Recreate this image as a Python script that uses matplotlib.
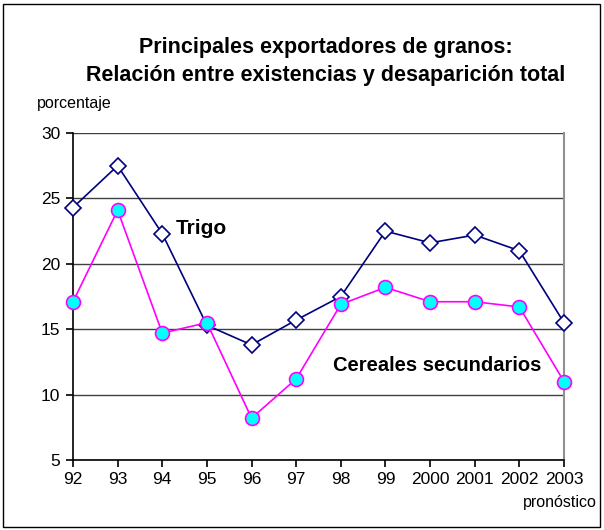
import matplotlib
matplotlib.use('Agg')
import matplotlib.pyplot as plt
from matplotlib.patches import Rectangle

plt.rcParams['font.family'] = ['Liberation Sans', 'DejaVu Sans']

years = ['92', '93', '94', '95', '96', '97', '98', '99', '2000', '2001', '2002', '2003']
trigo = [24.3, 27.5, 22.3, 15.3, 13.8, 15.7, 17.5, 22.5, 21.6, 22.2, 21.0, 15.5]
cereales = [17.1, 24.1, 14.7, 15.5, 8.2, 11.2, 16.9, 18.2, 17.1, 17.1, 16.7, 11.0]

fig = plt.figure(figsize=(6.04, 5.30), dpi=100)
ax = fig.add_axes([73/604, 1-460/530, (564-73)/604, (460-133)/530])

x = list(range(len(years)))
ax.plot(x, trigo, color='#000080', lw=1.2, marker='D', markersize=8,
        markerfacecolor='white', markeredgecolor='#000080', markeredgewidth=1.2, zorder=3)
ax.plot(x, cereales, color='#ff00ff', lw=1.2, marker='o', markersize=10,
        markerfacecolor='#00ffff', markeredgecolor='#ff00ff', markeredgewidth=1.2, zorder=4)

ax.set_xlim(0, len(years)-1)
ax.set_ylim(5, 30)
ax.set_yticks([5, 10, 15, 20, 25, 30])
ax.set_xticks(x)
ax.set_xticklabels(years)
ax.tick_params(labelsize=12.5, direction='out', length=5, width=1.2, pad=4)
ax.yaxis.grid(True, color='#404040', lw=1)
ax.set_axisbelow(True)
ax.spines['top'].set_visible(False)
ax.spines['right'].set_color('#909090')
ax.spines['right'].set_linewidth(1.5)
ax.spines['left'].set_linewidth(1.2)
ax.spines['bottom'].set_linewidth(1.2)
for ln in ax.lines:
    ln.set_clip_on(False)

ax.text(2.3, 22.7, 'Trigo', fontsize=15, fontweight='bold', va='center', ha='left')
ax.text(5.83, 12.2, 'Cereales secundarios', fontsize=14.5, fontweight='bold', va='center', ha='left')

fig.text(326/604, 1-48/530, 'Principales exportadores de granos:', fontsize=15.5,
         fontweight='bold', ha='center', va='center')
fig.text(326/604, 1-75/530, 'Relación entre existencias y desaparición total', fontsize=15.5,
         fontweight='bold', ha='center', va='center')
fig.text(37/604, 1-103/530, 'porcentaje', fontsize=11.5, ha='left', va='center')
fig.text(597/604, 1-503/530, 'pronóstico', fontsize=11.5, ha='right', va='center')

fig.patches.append(Rectangle((3/604, 3/530), 597/604, 523/530, transform=fig.transFigure,
                             fill=False, edgecolor='black', lw=1))

fig.savefig('out.png', dpi=100)
